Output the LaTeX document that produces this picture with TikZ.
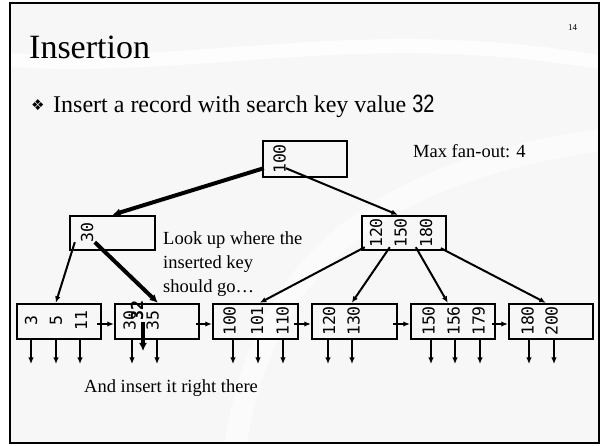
\documentclass[tikz,border=0pt]{standalone}
\usepackage{fontspec}
\setmainfont{Liberation Serif}
\newfontfamily\keyfont{DejaVu Sans Mono}
\newfontfamily\numfont{Liberation Sans}
\newfontfamily\symfont{DejaVu Sans}
\usetikzlibrary{arrows.meta,calc}
\begin{document}
\begin{tikzpicture}[x=1pt,y=-1pt,
  box/.style={draw, line width=2.4pt, minimum width=84pt, minimum height=35pt, inner sep=0pt},
  key/.style={font=\keyfont\fontsize{16.5}{17}\selectfont, rotate=90, inner sep=0pt},
  ptr/.style={line width=2pt, -{Latex[length=6.5pt,width=5.5pt]}},
  bigptr/.style={line width=4pt, -{Latex[length=8pt,width=8pt]}},
  lbl/.style={font=\fontsize{18.5}{22}\selectfont, anchor=base west, inner sep=0pt}]
\useasboundingbox (0,0) rectangle (606,446);
% background
\fill[white] (0,0) rectangle (606,446);
\fill[black!3] (10,3) rectangle (599,443);
\begin{scope}
\clip (10,3) rectangle (599,443);
\draw[white, line width=14pt, opacity=0.8] (10,60) .. controls (200,72) and (360,22) .. (599,62);
\draw[white, line width=22pt, opacity=0.6] (235,446) .. controls (260,300) and (330,180) .. (599,140);
\end{scope}
\draw[line width=2.8pt] (10,3) rectangle (599,443);

% texts
\node[anchor=base west, inner sep=0pt, font=\fontsize{34}{40}\selectfont] (title) at (29,59) {Insertion};
\node[anchor=base west, inner sep=0pt, font=\fontsize{9}{10}\selectfont] (pagenum) at (568,31) {14};
\node[anchor=base west, inner sep=0pt, font=\symfont\fontsize{15}{16}\selectfont] (bullet) at (31,111) {❖};
\node[anchor=base west, inner sep=0pt, font=\fontsize{24}{28}\selectfont] (task) at (53,113)
  {Insert a record with search key value \scalebox{0.8}[1]{\numfont\fontsize{25}{28}\selectfont 32}};
\node[lbl] (fanout) at (413,158) {Max fan-out: 4};
\node[lbl] (look1) at (163,245) {Look up where the};
\node[lbl] (look2) at (163,269) {inserted key};
\node[lbl] (look3) at (163,293) {should go…};
\node[lbl] (there) at (84,393) {And insert it right there};

% boxes
\node[box, minimum height=36pt] (root) at (305,159) {};
\node[box, minimum width=85pt, minimum height=34pt] (L) at (112.5,233) {};
\node[box, minimum height=34pt] (R) at (404,233) {};
\node[box] (leaf1) at (59,321.5) {};
\node[box] (leaf2) at (157,321.5) {};
\node[box, minimum width=85pt] (leaf3) at (255.5,321.5) {};
\node[box, minimum width=85pt] (leaf4) at (354.5,321.5) {};
\node[box] (leaf5) at (453,321.5) {};
\node[box] (leaf6) at (551,321.5) {};

% keys
\node[key] (kr) at (279.5,159) {100};
\node[key] (kl) at (87,233) {30};
\node[key] (kr1) at (376,233) {120};
\node[key] (kr2) at (400.5,233) {150};
\node[key] (kr3) at (426,233) {180};
\node[key] (a1) at (31,321) {3};
\node[key] (a2) at (56,321) {5};
\node[key] (a3) at (81,321) {11};
\node[key] (b1) at (129.5,321) {30};
\node[key] (b3) at (152.5,321) {35};
\node[key, font=\keyfont\bfseries\fontsize{16.5}{17}\selectfont] (b2) at (137,310.5) {32};
\node[key] (c1) at (229.5,321) {100};
\node[key] (c2) at (257,321) {101};
\node[key] (c3) at (282.5,321) {110};
\node[key] (d1) at (329,321) {120};
\node[key] (d2) at (353.5,321) {130};
\node[key] (e1) at (428.5,321) {150};
\node[key] (e2) at (453.5,321) {156};
\node[key] (e3) at (478.5,321) {179};
\node[key] (f1) at (527.5,321) {180};
\node[key] (f2) at (551.5,321) {200};

% tree pointers
\coordinate (rs1) at ($(root.south west)+(2,-10)$);
\coordinate (rs2) at ($(root.south west)+(24,-10)$);
\draw[bigptr] (rs1) -- (L.north);
\draw[ptr] (rs2) -- ($(R.north west)+(37,0)$);
\coordinate (ls1) at ($(L.south west)+(6,-9)$);
\coordinate (ls2) at ($(L.south west)+(26,-9)$);
\draw[ptr] (ls1) -- ($(leaf1.north west)+(40,0)$);
\draw[bigptr] (ls2) -- ($(leaf2.north west)+(44,0)$);
\coordinate (q1) at ($(R.south west)+(4,-4)$);
\coordinate (q2) at ($(R.south west)+(29,-4)$);
\coordinate (q3) at ($(R.south west)+(55,-4)$);
\coordinate (q4) at ($(R.south west)+(80,-3)$);
\draw[ptr] (q1) -- ($(leaf3.north west)+(48,0)$);
\draw[ptr] (q2) -- ($(leaf4.north west)+(41,0)$);
\draw[ptr] (q3) -- ($(leaf5.north west)+(38,0)$);
\draw[ptr] (q4) -- ($(leaf6.north west)+(38,0)$);

% sibling pointers
\draw[ptr] ($(leaf1.east)+(-5,2.5)$) -- ($(leaf2.west)+(0,2.5)$);
\draw[ptr] ($(leaf2.east)+(-4,2.5)$) -- ($(leaf3.west)+(0,2.5)$);
\draw[ptr] ($(leaf3.east)+(-5,2.5)$) -- ($(leaf4.west)+(0,2.5)$);
\draw[ptr] ($(leaf4.east)+(-5,2.5)$) -- ($(leaf5.west)+(0,2.5)$);
\draw[ptr] ($(leaf5.east)+(-4,2.5)$) -- ($(leaf6.west)+(0,2.5)$);

% record pointers
\foreach \lf/\xx/\nm in {leaf1/31/p1,leaf1/56/p2,leaf1/80/p3,
    leaf2/132/p4,leaf2/157/p5,
    leaf3/233/p6,leaf3/258/p7,leaf3/283/p8,
    leaf4/328/p9,leaf4/352/p10,
    leaf5/431/p11,leaf5/455/p12,leaf5/480/p13,
    leaf6/529/p14,leaf6/554/p15}{
  \coordinate (\nm) at (\xx,364);
  \draw[ptr] (\lf.south -| \nm) -- (\nm);
}
\coordinate (insstart) at ($(leaf2.center)+(-14,0.5)$);
\coordinate (ins) at (143,351);
\draw[bigptr] (insstart) -- (ins);
\end{tikzpicture}
\end{document}
